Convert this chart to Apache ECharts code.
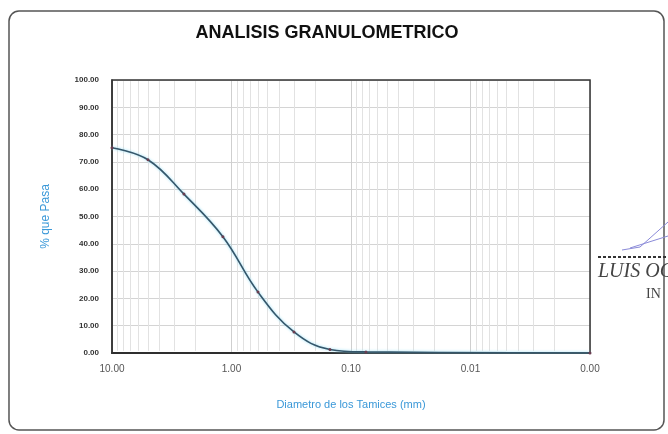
<!DOCTYPE html>
<html>
<head>
<meta charset="utf-8">
<script src="https://cdn.jsdelivr.net/npm/echarts@6/dist/echarts.min.js"></script>
<style>
html,body{margin:0;padding:0;background:#fff;}
#chart{width:668px;height:434px;}
</style>
</head>
<body>
<div id="chart"></div>
<script>
// Data
const diameters = [10, 5.0, 2.5, 1.18, 0.60, 0.30, 0.15, 0.075, 0.001];
const passing   = [75.2, 70.8, 58.2, 42.6, 22.3, 7.7, 1.3, 0.4, 0.0];
const minorGridValues = [];
[0.001, 0.01, 0.1, 1].forEach(function (dec) {
  for (let m = 2; m <= 9; m++) minorGridValues.push(+(m * dec).toPrecision(3));
});
const titleText = 'ANALISIS GRANULOMETRICO';
const xName = 'Diametro de los Tamices (mm)';
const yName = '% que Pasa';

const chart = echarts.init(document.getElementById('chart'), null, {renderer: 'canvas'});
const seriesData = diameters.map(function (d, i) { return [d, passing[i]]; });

chart.setOption({
  animation: false,
  backgroundColor: '#ffffff',
  grid: {
    left: 112, right: 78, top: 80, bottom: 81, z: 4,
    show: true, borderColor: '#333', borderWidth: 1.5, backgroundColor: 'transparent'
  },
  xAxis: {
    type: 'log', logBase: 10, min: 0.001, max: 10, inverse: true, z: 3,
    axisLine: {show: true, onZero: false, lineStyle: {color: '#222', width: 2}},
    axisTick: {show: false},
    axisLabel: {
      formatter: function (v) { return Number(v).toFixed(2); },
      color: '#555', fontSize: 10, fontFamily: 'Liberation Sans', margin: 11
    },
    splitLine: {show: true, lineStyle: {color: '#cfcfcf', width: 1}},
    name: xName, nameLocation: 'middle', nameGap: 46,
    nameTextStyle: {color: '#3a98d8', fontSize: 11, fontFamily: 'Liberation Sans'}
  },
  yAxis: {
    type: 'value', min: 0, max: 100, interval: 10, z: 3,
    axisLine: {show: true, lineStyle: {color: '#333', width: 1.5}},
    axisTick: {show: false},
    axisLabel: {
      formatter: function (v) { return Number(v).toFixed(2); },
      color: '#333', fontSize: 8, fontWeight: 'bold', fontFamily: 'Liberation Sans', margin: 13
    },
    splitLine: {show: true, lineStyle: {color: '#d4d4d4', width: 1}},
    name: yName, nameLocation: 'middle', nameGap: 60,
    nameTextStyle: {color: '#3a98d8', fontSize: 12, fontFamily: 'Liberation Sans'}
  },
  series: [{
    type: 'line',
    data: [],
    z: 1,
    silent: true,
    markLine: {
      silent: true, symbol: 'none', label: {show: false},
      lineStyle: {color: '#e2e2e2', width: 1, type: 'solid'},
      data: minorGridValues.map(function (v) { return [{coord: [v, 0.8]}, {coord: [v, 99.6]}]; })
    }
  }, {
    type: 'line',
    data: seriesData,
    smooth: 0.4,
    symbol: 'circle', symbolSize: 3,
    itemStyle: {color: '#6a3d50'},
    lineStyle: {color: '#35566a', width: 1.6, shadowColor: '#8fdcf5', shadowBlur: 3},
    z: 5
  }],
  graphic: [
    {type: 'rect', shape: {x: 9, y: 11, width: 655, height: 419, r: 10},
     style: {fill: 'none', stroke: '#555', lineWidth: 1.5}, z: 100},
    {type: 'text', x: 327, y: 33,
     style: {text: titleText, fill: '#111', font: 'bold 18px "Liberation Sans"', textAlign: 'center', textVerticalAlign: 'middle'}, z: 100},
    {type: 'polyline', shape: {points: [[622, 250], [640, 247], [668, 222]]},
     style: {stroke: '#8a8ad8', lineWidth: 1, fill: 'none'}, z: 100},
    {type: 'polyline', shape: {points: [[630, 248], [668, 236]]},
     style: {stroke: '#8a8ad8', lineWidth: 1, fill: 'none'}, z: 100},
    {type: 'line', shape: {x1: 598, y1: 257, x2: 668, y2: 257},
     style: {stroke: '#333', lineWidth: 2, lineDash: [3, 2]}, z: 100},
    {type: 'text', x: 598, y: 272,
     style: {text: 'LUIS OC', fill: '#444', font: 'italic 20px "Liberation Serif"', textAlign: 'left', textVerticalAlign: 'middle'}, z: 100},
    {type: 'text', x: 646, y: 294,
     style: {text: 'IN', fill: '#444', font: '14px "Liberation Serif"', textAlign: 'left', textVerticalAlign: 'middle'}, z: 100}
  ]
});
</script>
</body>
</html>
